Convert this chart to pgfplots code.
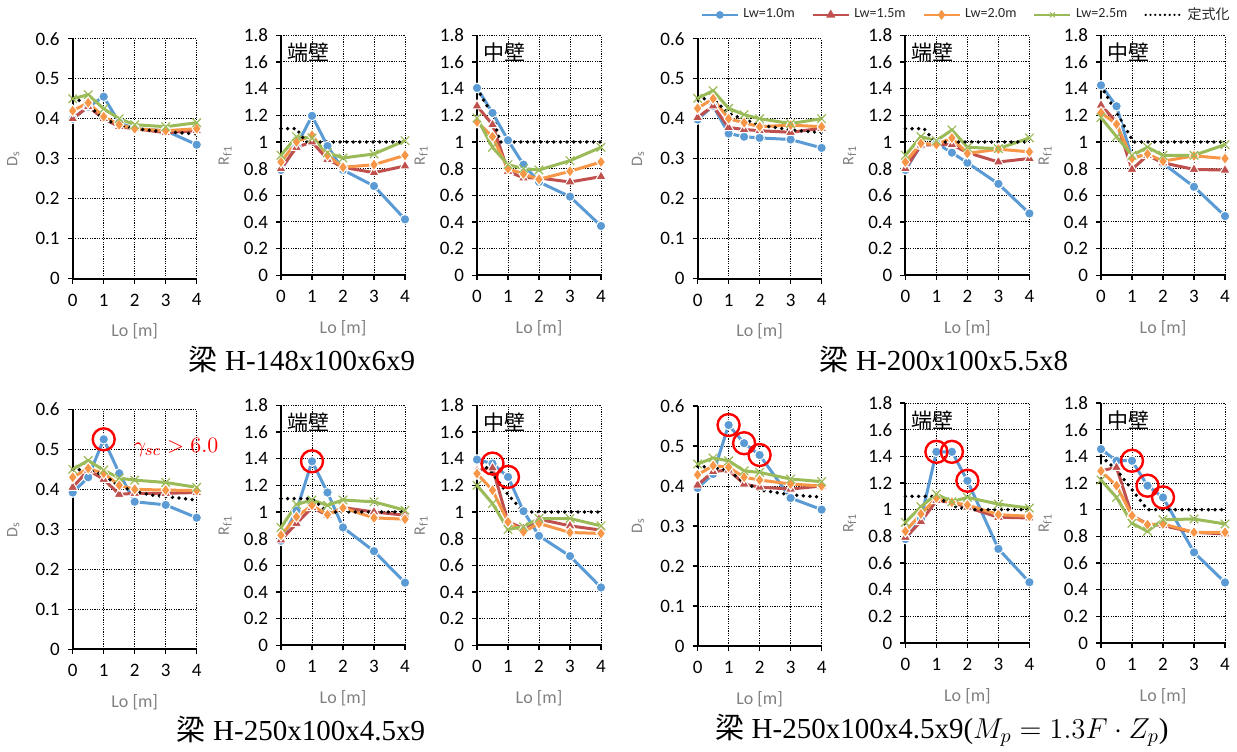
\documentclass[border=0pt]{standalone}
\usepackage{fontspec}
\setmainfont{Carlito}
\newfontfamily\cjk{Noto Sans CJK JP}
\newfontfamily\serif{Liberation Serif}
\usepackage{pgfplots}
\pgfplotsset{compat=1.18}
\definecolor{cB}{HTML}{5B9BD5}
\definecolor{cR}{HTML}{C0504D}
\definecolor{cO}{HTML}{F79646}
\definecolor{cG}{HTML}{9BBB59}
\definecolor{lab}{HTML}{808080}
\pgfplotsset{
  panel/.style={
    scale only axis, width=62pt, height=120pt, anchor=south west,
    xmin=0, xmax=4, xtick={0,1,2,3,4},
    axis x line=bottom, axis y line=left,
    axis line style={-, black, line width=1pt},
    tick align=outside, major tick length=2.5pt,
    every tick/.style={black, line width=0.6pt},
    grid=major,
    major grid style={black, line width=0.5pt, dash pattern=on 0.6pt off 0.6pt},
    ticklabel style={font=\fontsize{9.5}{11}\selectfont, text=black},
    xticklabel style={yshift=-1.5pt},
    yticklabel style={xshift=-0.5pt},
    /pgf/number format/assume math mode=true,
    yticklabel style={/pgf/number format/fixed, /pgf/number format/precision=1},
    xlabel={Lo [m]},
    xlabel style={at={(axis description cs:0.5,-0.22)}, anchor=center, font=\fontsize{9}{10}\selectfont, text=lab},
    ylabel style={anchor=center, font=\fontsize{8}{9}\selectfont, text=lab},
    clip=false,
    legend image code/.code={\draw[mark repeat=2, mark phase=2, ##1] plot coordinates {(0pt,0pt) (9pt,0pt) (18pt,0pt)};},
  },
  ds/.style={panel, ymin=0, ymax=0.6, ytick={0,0.1,0.2,0.3,0.4,0.5,0.6},
    ylabel={D\textsubscript{s}}, ylabel style={at={(axis description cs:-0.48,0.5)}}},
  rf/.style={panel, ymin=0, ymax=1.8, ytick={0,0.2,0.4,0.6,0.8,1,1.2,1.4,1.6,1.8},
    ylabel={R\textsubscript{f1}}, ylabel style={at={(axis description cs:-0.45,0.5)}}},
  sB/.style={color=cB, line width=1.5pt, mark=*, mark size=2.4pt, mark options={fill=cB, draw=white, line width=0.5pt}},
  sR/.style={color=cR, line width=1.5pt, mark=triangle*, mark size=3pt, mark options={fill=cR, draw=white, line width=0.5pt}},
  sO/.style={color=cO, line width=1.5pt, mark=diamond*, mark size=3pt, mark options={fill=cO, draw=white, line width=0.5pt}},
  sG/.style={color=cG, line width=1.5pt, mark=x, mark size=3pt, mark options={cG, line width=0.6pt}},
  sF/.style={black, line width=1.9pt, line cap=round, dash pattern=on 0pt off 3.3pt, no marks},
  circ/.style={only marks, red, mark=o, mark size=5.5pt, mark options={red, line width=1.2pt}},
}
\newcommand{\plab}[1]{\node[anchor=west, inner sep=0pt, font=\fontsize{10.5}{12}\selectfont\cjk] at (rel axis cs:0.048,0.929) {#1};}
\begin{document}
\begin{tikzpicture}
\useasboundingbox (0,0) rectangle (618.5pt,-375.5pt);
% ================= Top-left group =================
\begin{axis}[ds, at={(36.35pt,-139.35pt)}]
\addplot[sB] coordinates {(0,0.40)(0.5,0.43)(1,0.455)(1.5,0.39)(2,0.375)(3,0.37)(4,0.335)};
\addplot[sR] coordinates {(0,0.40)(0.5,0.43)(1,0.40)(1.5,0.38)(2,0.375)(3,0.365)(4,0.37)};
\addplot[sO] coordinates {(0,0.42)(0.5,0.44)(1,0.405)(1.5,0.385)(2,0.375)(3,0.37)(4,0.375)};
\addplot[sG] coordinates {(0,0.45)(0.5,0.46)(1,0.425)(1.5,0.40)(2,0.385)(3,0.38)(4,0.39)};
\addplot[sF] coordinates {(0,0.45)(0.5,0.44)(0.75,0.415)(1,0.40)(1.5,0.383)(2,0.375)(3,0.367)(4,0.362)};
\end{axis}
\begin{axis}[rf, at={(140.5pt,-137.65pt)}]
\addplot[sB] coordinates {(0,0.79)(0.5,0.97)(1,1.196)(1.5,0.97)(2,0.79)(3,0.67)(4,0.42)};
\addplot[sR] coordinates {(0,0.80)(0.5,0.96)(1,1.0)(1.5,0.87)(2,0.81)(3,0.77)(4,0.82)};
\addplot[sO] coordinates {(0,0.85)(0.5,1.0)(1,1.05)(1.5,0.90)(2,0.81)(3,0.83)(4,0.90)};
\addplot[sG] coordinates {(0,0.90)(0.5,1.04)(1,1.03)(1.5,0.92)(2,0.88)(3,0.91)(4,1.01)};
\addplot[sF] coordinates {(0,1.1)(0.5,1.1)(0.8,1.0)(4,1.0)};
\plab{端壁}
\end{axis}
\begin{axis}[rf, at={(238.5pt,-137.65pt)}]
\addplot[sB] coordinates {(0,1.405)(0.5,1.218)(1,1.013)(1.5,0.83)(2,0.70)(3,0.59)(4,0.37)};
\addplot[sR] coordinates {(0,1.27)(0.5,1.13)(1,0.78)(1.5,0.73)(2,0.73)(3,0.70)(4,0.74)};
\addplot[sO] coordinates {(0,1.15)(0.5,1.04)(1,0.80)(1.5,0.76)(2,0.72)(3,0.78)(4,0.85)};
\addplot[sG] coordinates {(0,1.18)(0.5,0.96)(1,0.83)(1.5,0.80)(2,0.79)(3,0.86)(4,0.96)};
\addplot[sF] coordinates {(0,1.4)(0.5,1.2)(0.75,1.0)(4,1.0)};
\plab{中壁}
\end{axis}
% ================= Top-right group =================
\begin{axis}[ds, at={(348.8pt,-139.35pt)}]
\addplot[sB] coordinates {(0,0.398)(0.5,0.432)(1,0.363)(1.5,0.355)(2,0.352)(3,0.348)(4,0.327)};
\addplot[sR] coordinates {(0,0.403)(0.5,0.432)(1,0.378)(1.5,0.373)(2,0.37)(3,0.366)(4,0.376)};
\addplot[sO] coordinates {(0,0.426)(0.5,0.45)(1,0.40)(1.5,0.39)(2,0.38)(3,0.384)(4,0.38)};
\addplot[sG] coordinates {(0,0.451)(0.5,0.47)(1,0.426)(1.5,0.41)(2,0.40)(3,0.388)(4,0.40)};
\addplot[sF] coordinates {(0,0.45)(0.5,0.45)(1,0.413)(2,0.384)(3,0.372)(4,0.365)};
\end{axis}
\begin{axis}[rf, at={(452.7pt,-137.65pt)}]
\addplot[sB] coordinates {(0,0.79)(0.5,0.976)(1,0.99)(1.5,0.92)(2,0.844)(3,0.686)(4,0.464)};
\addplot[sR] coordinates {(0,0.80)(0.5,0.976)(1,0.98)(1.5,0.98)(2,0.92)(3,0.85)(4,0.876)};
\addplot[sO] coordinates {(0,0.85)(0.5,0.99)(1,0.98)(1.5,1.03)(2,0.914)(3,0.946)(4,0.926)};
\addplot[sG] coordinates {(0,0.90)(0.5,1.04)(1,1.01)(1.5,1.09)(2,0.96)(3,0.95)(4,1.03)};
\addplot[sF] coordinates {(0,1.1)(0.6,1.1)(0.95,1.0)(4,1.0)};
\plab{端壁}
\end{axis}
\begin{axis}[rf, at={(550.5pt,-137.65pt)},
  legend columns=5,
  legend style={at={(-1.079,1.085)}, anchor=center, draw=none, fill=none, inner sep=0pt,
    font=\fontsize{7}{8}\selectfont, text=black!85,
    /tikz/every even column/.append style={column sep=6.5pt},
    /tikz/every odd column/.append style={column sep=0.3pt}}]
\addlegendimage{cB, line width=1pt, mark=*, mark size=1.4pt, mark options={fill=cB, draw=cB}}
\addlegendimage{cR, line width=1pt, mark=triangle*, mark size=1.7pt, mark options={fill=cR, draw=cR}}
\addlegendimage{cO, line width=1pt, mark=diamond*, mark size=1.7pt, mark options={fill=cO, draw=cO}}
\addlegendimage{cG, line width=1pt, mark=x, mark size=1.7pt, mark options={cG, line width=0.5pt}}
\addlegendimage{black, line width=1.3pt, line cap=round, dash pattern=on 0pt off 2.4pt}
\legend{Lw=1.0m, Lw=1.5m, Lw=2.0m, Lw=2.5m, {\cjk 定式化}}
\addplot[sB] coordinates {(0,1.425)(0.5,1.268)(1,0.88)(1.5,0.91)(2,0.84)(3,0.664)(4,0.444)};
\addplot[sR] coordinates {(0,1.276)(0.5,1.15)(1,0.794)(1.5,0.90)(2,0.844)(3,0.794)(4,0.789)};
\addplot[sO] coordinates {(0,1.22)(0.5,1.133)(1,0.876)(1.5,0.91)(2,0.856)(3,0.896)(4,0.876)};
\addplot[sG] coordinates {(0,1.183)(0.5,1.04)(1,0.90)(1.5,0.96)(2,0.90)(3,0.90)(4,0.98)};
\addplot[sF] coordinates {(0,1.42)(0.5,1.22)(1.05,1.0)(4,1.0)};
\plab{中壁}
\end{axis}
% ================= Bottom-left group =================
\begin{axis}[ds, at={(36.35pt,-324.65pt)}]
\addplot[sB] coordinates {(0,0.392)(0.5,0.43)(1,0.525)(1.5,0.44)(2,0.369)(3,0.361)(4,0.329)};
\addplot[sR] coordinates {(0,0.405)(0.5,0.448)(1,0.425)(1.5,0.3875)(2,0.39)(3,0.39)(4,0.392)};
\addplot[sO] coordinates {(0,0.43)(0.5,0.452)(1,0.44)(1.5,0.41)(2,0.40)(3,0.398)(4,0.397)};
\addplot[sG] coordinates {(0,0.45)(0.5,0.472)(1,0.448)(1.5,0.428)(2,0.423)(3,0.417)(4,0.405)};
\addplot[sF] coordinates {(0,0.45)(0.5,0.448)(1,0.436)(1.5,0.407)(2,0.395)(2.5,0.386)(3,0.382)(4,0.373)};
\addplot[circ] coordinates {(1,0.525)};
\node[red, font=\fontsize{11}{12}\selectfont] at (axis cs:3.33,0.505) {$\gamma_{sc} > 6.0$};
\end{axis}
\begin{axis}[rf, at={(140.5pt,-322.65pt)}]
\addplot[sB] coordinates {(0,0.784)(0.5,1.01)(1,1.38)(1.5,1.146)(2,0.884)(3,0.706)(4,0.47)};
\addplot[sR] coordinates {(0,0.79)(0.5,0.914)(1,1.033)(1.5,0.976)(2,1.033)(3,1.0)(4,0.976)};
\addplot[sO] coordinates {(0,0.826)(0.5,0.964)(1,1.05)(1.5,0.98)(2,1.03)(3,0.956)(4,0.946)};
\addplot[sG] coordinates {(0,0.884)(0.5,1.056)(1,1.09)(1.5,1.05)(2,1.09)(3,1.076)(4,1.013)};
\addplot[sF] coordinates {(0,1.1)(1,1.1)(1.5,1.0)(4,1.0)};
\addplot[circ] coordinates {(1,1.38)};
\plab{端壁}
\end{axis}
\begin{axis}[rf, at={(238.5pt,-322.65pt)}]
\addplot[sB] coordinates {(0,1.393)(0.5,1.363)(1,1.263)(1.5,1.006)(2,0.821)(3,0.669)(4,0.434)};
\addplot[sR] coordinates {(0,1.31)(0.5,1.33)(1,0.926)(1.5,0.876)(2,0.946)(3,0.896)(4,0.864)};
\addplot[sO] coordinates {(0,1.288)(0.5,1.163)(1,0.926)(1.5,0.851)(2,0.914)(3,0.846)(4,0.839)};
\addplot[sG] coordinates {(0,1.20)(0.5,1.063)(1,0.869)(1.5,0.889)(2,0.951)(3,0.951)(4,0.896)};
\addplot[sF] coordinates {(0,1.4)(0.5,1.29)(1,1.13)(1.5,1.0)(4,1.0)};
\addplot[circ] coordinates {(0.5,1.363)(1,1.263)};
\plab{中壁}
\end{axis}
% ================= Bottom-right group =================
\begin{axis}[ds, at={(348.8pt,-323pt)}]
\addplot[sB] coordinates {(0,0.395)(0.5,0.43)(1,0.5525)(1.5,0.507)(2,0.4775)(3,0.37)(4,0.341)};
\addplot[sR] coordinates {(0,0.4025)(0.5,0.436)(1,0.44)(1.5,0.405)(2,0.397)(3,0.3925)(4,0.40)};
\addplot[sO] coordinates {(0,0.428)(0.5,0.451)(1,0.447)(1.5,0.422)(2,0.415)(3,0.405)(4,0.40)};
\addplot[sG] coordinates {(0,0.455)(0.5,0.47)(1,0.463)(1.5,0.438)(2,0.434)(3,0.4175)(4,0.411)};
\addplot[sF] coordinates {(0,0.449)(0.5,0.447)(1,0.438)(1.5,0.409)(2,0.39)(3,0.378)(4,0.372)};
\addplot[circ] coordinates {(1,0.5525)(1.5,0.507)(2,0.4775)};
\end{axis}
\begin{axis}[rf, at={(452.7pt,-321.5pt)}]
\addplot[sB] coordinates {(0,0.78)(0.5,0.93)(1,1.434)(1.5,1.434)(2,1.217)(3,0.706)(4,0.456)};
\addplot[sR] coordinates {(0,0.793)(0.5,0.91)(1,1.067)(1.5,1.055)(2,1.017)(3,0.943)(4,0.938)};
\addplot[sO] coordinates {(0,0.838)(0.5,0.968)(1,1.087)(1.5,1.055)(2,1.035)(3,0.963)(4,0.95)};
\addplot[sG] coordinates {(0,0.905)(0.5,1.022)(1,1.117)(1.5,1.06)(2,1.092)(3,1.042)(4,1.012)};
\addplot[sF] coordinates {(0,1.1)(1,1.1)(1.5,1.03)(2,1.0)(4,1.0)};
\addplot[circ] coordinates {(1,1.434)(1.5,1.434)(2,1.217)};
\plab{端壁}
\end{axis}
\begin{axis}[rf, at={(550.5pt,-321.5pt)}]
\addplot[sB] coordinates {(0,1.454)(0.5,1.367)(1,1.367)(1.5,1.18)(2,1.092)(3,0.68)(4,0.454)};
\addplot[sR] coordinates {(0,1.292)(0.5,1.317)(1,0.955)(1.5,0.893)(2,0.88)(3,0.83)(4,0.818)};
\addplot[sO] coordinates {(0,1.29)(0.5,1.18)(1,0.955)(1.5,0.888)(2,0.893)(3,0.83)(4,0.83)};
\addplot[sG] coordinates {(0,1.222)(0.5,1.092)(1,0.898)(1.5,0.838)(2,0.925)(3,0.93)(4,0.893)};
\addplot[sF] coordinates {(0,1.4)(0.5,1.3)(1,1.15)(1.5,1.0)(4,1.0)};
\addplot[circ] coordinates {(1,1.367)(1.5,1.18)(2,1.092)};
\plab{中壁}
\end{axis}
% ================= Titles =================
\node[anchor=base, font=\fontsize{14.5}{16}\selectfont\serif] at (151pt,-185pt) {{\cjk 梁} H-148x100x6x9};
\node[anchor=base, font=\fontsize{14.5}{16}\selectfont\serif] at (472pt,-185pt) {{\cjk 梁} H-200x100x5.5x8};
\node[anchor=base, font=\fontsize{14.5}{16}\selectfont\serif] at (150.5pt,-370pt) {{\cjk 梁} H-250x100x4.5x9};
\node[anchor=base, font=\fontsize{14.5}{16}\selectfont\serif] at (471pt,-369pt) {{\cjk 梁} H-250x100x4.5x9($M_p = 1.3F\cdot Z_p$)};
\end{tikzpicture}
\end{document}
